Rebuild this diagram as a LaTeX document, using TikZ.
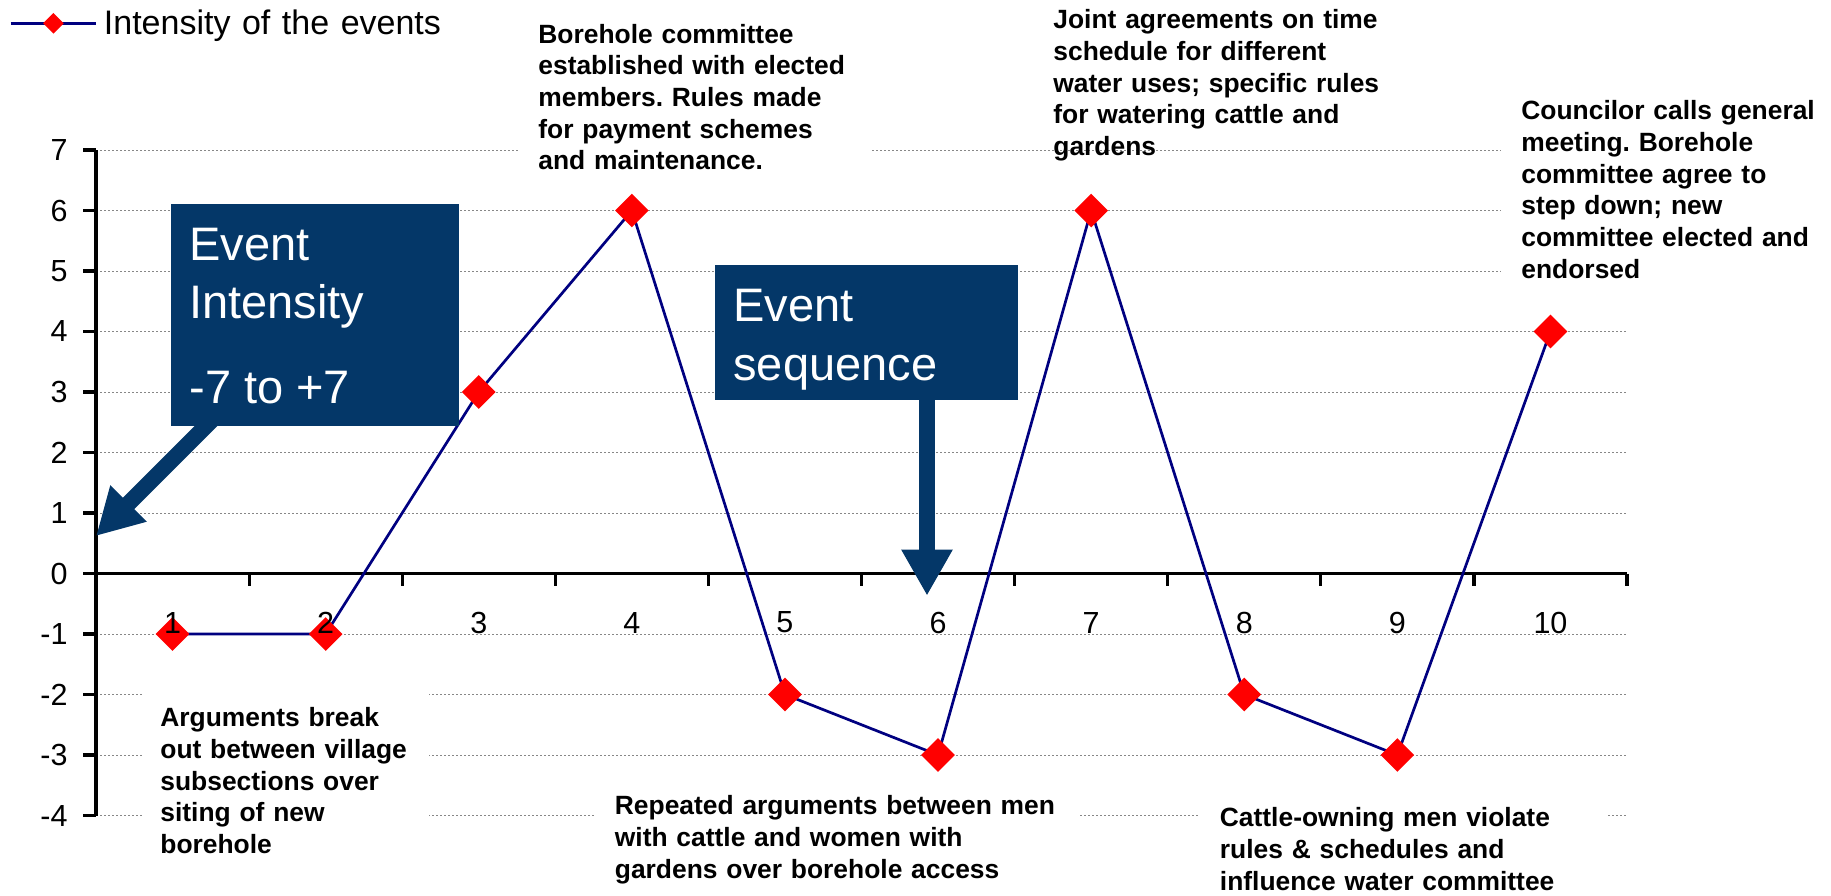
\documentclass[tikz,border=0pt]{standalone}
\usepackage{fontspec}
\setmainfont{Liberation Sans}
\usetikzlibrary{arrows.meta,shapes.geometric}
\definecolor{calloutblue}{RGB}{4,55,104}
\definecolor{seriesblue}{RGB}{0,0,128}
\definecolor{markerred}{RGB}{255,0,0}
\definecolor{gridgray}{RGB}{135,135,135}
\frenchspacing
\begin{document}
\begin{tikzpicture}[x=0.5pt,y=-0.5pt,
  gridline/.style={gridgray,line width=0.5pt,dash pattern=on 1pt off 1pt},
  axisline/.style={black,line width=1.6pt},
  dataline/.style={seriesblue,line width=1.35pt},
  datamark/.style={diamond,fill=markerred,inner sep=0pt,minimum width=17pt,minimum height=17pt},
  ticklabel/.style={font=\fontsize{15.25pt}{18pt}\selectfont,inner sep=0pt},
  legendtext/.style={font=\fontsize{17pt}{20pt}\selectfont,inner sep=0pt,anchor=base west},
  notetext/.style={font=\bfseries\fontsize{13.2pt}{15.85pt}\selectfont,align=left,anchor=north west},
  notebox/.style={notetext,fill=white},
  callout/.style={fill=calloutblue,inner sep=0pt,anchor=north west},
  callouttext/.style={text=white,font=\fontsize{23.5pt}{29pt}\selectfont,inner sep=0pt,anchor=base west},
  bigarrow/.style={calloutblue,line width=8pt,-{Triangle[width=24pt,length=23pt]}},
]
\useasboundingbox (0,0) rectangle (1831,895);

% gridlines
\foreach \v in {-4,-3,-2,-1,1,2,3,4,5,6,7}
  \draw[gridline] (96,{573.5-60.5*\v}) -- (1627,{573.5-60.5*\v});

% annotation texts
\node[notebox, inner xsep=9pt, inner ysep=6pt, text width=125.5pt] (n1) at (142,692)
  {\strut Arguments break\\out between village\\subsections over\\siting of new\\borehole};
\node[notebox, inner xsep=10pt, inner ysep=4pt, text width=156pt] (n4) at (518,12.6)
  {\strut Borehole committee\\established with elected\\members. Rules made\\for payment schemes\\and maintenance.};
\node[notetext, inner sep=0pt, text width=170pt] (n7) at (1053,6.3)
  {\strut Joint agreements on time\\schedule for different\\water uses; specific rules\\for watering cattle and\\gardens};
\node[notebox, inner xsep=10pt, inner ysep=4pt, text width=150pt] (n10) at (1501,89.3)
  {\strut Councilor calls general\\meeting. Borehole\\committee agree to\\step down; new\\committee elected and\\endorsed};
\node[notebox, inner xsep=10.25pt, inner ysep=4pt, text width=221.5pt] (n56) at (594,784.3)
  {\strut Repeated arguments between men\\with cattle and women with\\gardens over borehole access};
\node[notebox, inner xsep=10.75pt, inner ysep=1pt, text width=183pt] (n89) at (1198,802.3)
  {\strut Cattle-owning men violate\\rules \& schedules and\\influence water committee};

% axes
\draw[axisline] (96,150) -- (96,815.5);
\draw[axisline] (96,573.5) -- (1627,573.5);
\foreach \v in {-4,...,7}
  \draw[axisline] (83,{573.5-60.5*\v}) -- (96,{573.5-60.5*\v});
\foreach \k in {1,...,10}
  \draw[axisline] ({96+153.1*\k},573.5) -- ({96+153.1*\k},586);
\foreach \v [count=\n] in {-4,...,7}
  \node[ticklabel, anchor=east] (ylab\n) at (68,{573.5-60.5*\v}) {\v};

% data series
\coordinate (d1) at (172.55,634);
\coordinate (d2) at (325.65,634);
\coordinate (d3) at (478.75,392);
\coordinate (d4) at (631.85,210.5);
\coordinate (d5) at (784.95,694.5);
\coordinate (d6) at (938.05,755);
\coordinate (d7) at (1091.15,210.5);
\coordinate (d8) at (1244.25,694.5);
\coordinate (d9) at (1397.35,755);
\coordinate (d10) at (1550.45,331.5);
\draw[dataline] (d1) -- (d2) -- (d3) -- (d4) -- (d5) -- (d6) -- (d7) -- (d8) -- (d9) -- (d10);
\foreach \i in {1,...,10}
  \node[datamark] (m\i) at (d\i) {};
\foreach \i in {1,...,10}
  \node[ticklabel] (xlab\i) at ({96+153.1*(\i-0.5)},622.5) {\i};

% legend
\coordinate (lgA) at (10.7,23.3);
\coordinate (lgB) at (96,23.3);
\draw[dataline] (lgA) -- (lgB);
\node[datamark, minimum width=10.5pt, minimum height=10.5pt] (lgmark) at (53.4,23.3) {};
\node[legendtext] (lgtext) at (103.5,34.3) {\spaceskip=0.34em\relax Intensity of the events};

% callout: event intensity
\node[callout, minimum width=144pt, minimum height=110.85pt] (intbox) at (171,204) {};
\coordinate (intstart) at (226,406);
\coordinate (inttip) at (96,536);
\draw[bigarrow] (intstart) -- (inttip);
\node[callouttext] (intt1) at (189,260.1) {Event};
\node[callouttext] (intt2) at (189,318.5) {Intensity};
\node[callouttext] (intt3) at (189,403.8) {-7 to +7};

% callout: event sequence
\node[callout, minimum width=151.35pt, minimum height=67.15pt] (seqbox) at (715,265) {};
\coordinate (seqstart) at (927,385);
\coordinate (seqtip) at (927,595.7);
\draw[bigarrow] (seqstart) -- (seqtip);
\node[callouttext] (seqt1) at (733,321.8) {Event};
\node[callouttext] (seqt2) at (733,380.1) {sequence};
\end{tikzpicture}
\end{document}
